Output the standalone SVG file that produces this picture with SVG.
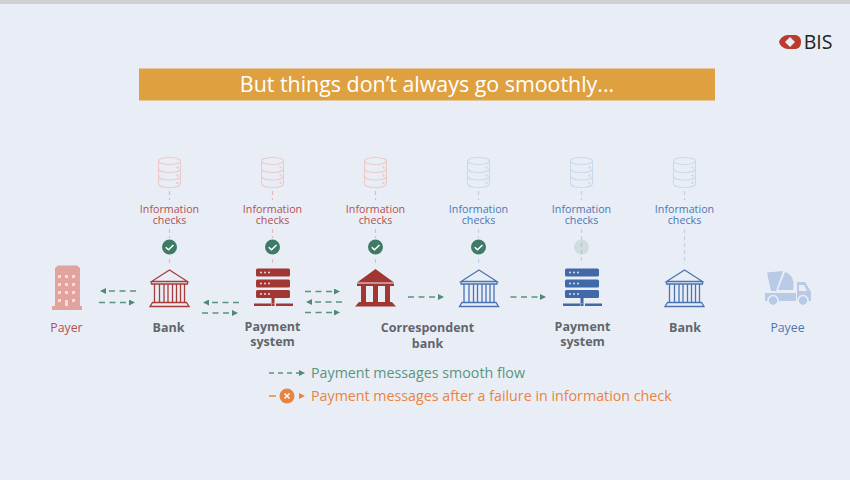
<svg xmlns="http://www.w3.org/2000/svg" width="850" height="480" viewBox="0 0 850 480">
<style>
text{font-family:"Open Sans","Noto Sans",sans-serif;text-anchor:middle}
.info{font-size:10.7px}
.red{fill:#b3504f}.blue{fill:#4d76b5}
.name{font-size:12.5px;font-weight:700;fill:#62666c}
.flow{fill:none;stroke:#5a9480;stroke-width:1.500;stroke-dasharray:6 4.500;marker-end:url(#ah)}
.vr{fill:none;stroke:#e3b9ba;stroke-width:1.200;stroke-dasharray:4 3}
.vb{fill:none;stroke:#c3d1e6;stroke-width:1.200;stroke-dasharray:4 3}
.db{fill:none;stroke-width:1.100}
.dbr{stroke:#eccaca;color:#eccaca}.dbb{stroke:#cbd9ec;color:#cbd9ec}
.bk{fill:none;stroke-width:1.300}
</style>
<defs>
<marker id="ah" viewBox="0 0 6 6" refX="3" refY="3" markerWidth="6" markerHeight="6" markerUnits="userSpaceOnUse" orient="auto"><path d="M0 0L6 3L0 6z" fill="#4f8a72"/></marker>
<marker id="aho" viewBox="0 0 6 6" refX="3" refY="3" markerWidth="6" markerHeight="6" markerUnits="userSpaceOnUse" orient="auto"><path d="M0 0L6 3L0 6z" fill="#e8843f"/></marker>
<g id="db">
<ellipse cx="0" cy="3.500" rx="11" ry="3.500"/>
<path d="M-11 3.500V26C-11 28.500 -6 30 0 30S11 28.500 11 26V3.500M-11 11C-11 13.500 -6 15 0 15S11 13.500 11 11M-11 18.500C-11 21 -6 22.500 0 22.500S11 21 11 18.500"/>
<circle cx="8" cy="10" r=".6" fill="currentColor"/><circle cx="8" cy="18" r=".6" fill="currentColor"/><circle cx="8" cy="25.500" r=".6" fill="currentColor"/>
</g>
<g id="chk"><circle r="7.500" fill="#3f7a66"/><path d="M-3.800 .2L-1 2.800L4 -2" fill="none" stroke="#fff" stroke-width="1.500"/></g>
<g id="bank">
<path d="M0 0.500L18 12H-18ZM-18 12V14.500H18V12M-15 14.500V33M15 14.500V33M-10 14.500V33M-5.500 14.500V33M-1.500 14.500V33M3 14.500V33M7 14.500V33M11 14.500V33M-15 33H15M-17 33H17L19.500 37H-19.500Z"/>
</g>
<g id="srv">
<rect x="0" y="0" width="34" height="8" rx="1.500"/><rect x="0" y="11" width="34" height="8" rx="1.500"/><rect x="0" y="21.500" width="34" height="8" rx="1.500"/>
<rect x="15.500" y="29" width="3" height="6"/><rect x="-2" y="35" width="17" height="2.500"/><rect x="15.500" y="35" width="3" height="2.500"/><rect x="20" y="35" width="17" height="2.500"/>
<g fill="#e9eef6"><circle cx="5" cy="4" r=".9"/><circle cx="9" cy="4" r=".9"/><circle cx="13" cy="4" r=".9"/><circle cx="5" cy="15" r=".9"/><circle cx="9" cy="15" r=".9"/><circle cx="13" cy="15" r=".9"/><circle cx="5" cy="25.500" r=".9"/><circle cx="9" cy="25.500" r=".9"/><circle cx="13" cy="25.500" r=".9"/></g>
</g>
</defs>
<rect width="850" height="480" fill="#e9eef6"/>
<rect width="850" height="4" fill="#d0d1d0"/>
<g id="logo">
<path d="M779 42C780 38 784 35 788 35H795C798 35 801 37 801 42C801 47 798 49 795 49H788C784 49 780 46 779 42Z" fill="#bd3a2f"/>
<path d="M790 37L795 42L790 47L785 42Z" fill="#e9eef6"/>
<text x="818" y="49" style="font-family:'Open Sans',sans-serif;font-size:19.5px" fill="#222">BIS</text>
</g>
<g id="title">
<rect x="139" y="68.500" width="576" height="32" fill="#dfa140"/>
<text x="427" y="92" font-size="21.400" fill="#fff">But things don’t always go smoothly...</text>
</g>
<g id="connectors">
<path class="vr" d="M169.500 191V200M169.500 229V238M169.500 259V264M272.500 191V200M272.500 229V238M272.500 259V264M375.500 191V200M375.500 229V238M375.500 259V264"/>
<path class="vb" d="M478.500 191V200M478.500 229V238M478.500 259V264M581.500 191V200M581.500 229V264M684.500 191V200M684.500 229V264"/>
<path class="flow" d="M136 291H103"/>
<path class="flow" d="M99 302.500H132"/>
<path class="flow" d="M239 302.500H206"/>
<path class="flow" d="M202 313H235"/>
<path class="flow" d="M305 291.500H337"/>
<path class="flow" d="M342 302H309"/>
<path class="flow" d="M305 312.500H337"/>
<path class="flow" d="M408 297H441"/>
<path class="flow" d="M510.500 297H543"/>
</g>
<g id="payer">
<path fill="#e2a29e" d="M55 268L58 265.500H77L80 268V306H82V310H52V306H55Z"/>
<g fill="#f3dede"><rect x="58" y="275" width="3" height="3"/><rect x="65" y="275" width="3" height="3"/><rect x="72" y="275" width="3" height="3"/><rect x="58" y="283" width="3" height="3"/><rect x="65" y="283" width="3" height="3"/><rect x="72" y="283" width="3" height="3"/><rect x="58" y="291" width="3" height="3"/><rect x="65" y="291" width="3" height="3"/><rect x="72" y="291" width="3" height="3"/><rect x="58" y="299" width="3" height="3"/><rect x="72" y="299" width="3" height="3"/><rect x="65" y="300" width="3" height="6"/></g>
<text x="66.500" y="332" font-size="12.300" class="red">Payer</text>
</g>
<g id="bank1">
<use href="#db" x="169.500" y="157.500" class="db dbr"/>
<text class="info red"><tspan x="169.500" y="212.500">Information</tspan><tspan x="169.500" y="224">checks</tspan></text>
<use href="#chk" x="169.500" y="247"/>
<use href="#bank" x="169.500" y="269.500" class="bk" stroke="#a83c38"/>
<text x="168.500" y="332" class="name">Bank</text>
</g>
<g id="ps1">
<use href="#db" x="272.500" y="157.500" class="db dbr"/>
<text class="info red"><tspan x="272.500" y="212.500">Information</tspan><tspan x="272.500" y="224">checks</tspan></text>
<use href="#chk" x="272.500" y="247"/>
<use href="#srv" x="256" y="268.500" fill="#a03733"/>
<text class="name"><tspan x="272.500" y="331">Payment</tspan><tspan x="272.500" y="346">system</tspan></text>
</g>
<g id="cb">
<use href="#db" x="375.500" y="157.500" class="db dbr"/>
<text class="info red"><tspan x="375.500" y="212.500">Information</tspan><tspan x="375.500" y="224">checks</tspan></text>
<use href="#chk" x="375.500" y="247"/>
<path fill="#a03733" d="M375.500 269L394 282.500H357ZM357 283.500H394V286H357ZM361 286H366V302H361ZM373 286H378V302H373ZM385 286H390V302H385ZM359 302H392L396 306.500H355Z"/>
<text class="name"><tspan x="427.500" y="332">Correspondent</tspan><tspan x="427.500" y="348">bank</tspan></text>
</g>
<g id="bank2">
<use href="#db" x="478.500" y="157.500" class="db dbb"/>
<text class="info blue"><tspan x="478.500" y="212.500">Information</tspan><tspan x="478.500" y="224">checks</tspan></text>
<use href="#chk" x="478.500" y="247"/>
<use href="#bank" x="479" y="269.500" class="bk" stroke="#4a73b3"/>
</g>
<g id="ps2">
<use href="#db" x="581.500" y="157.500" class="db dbb"/>
<text class="info blue"><tspan x="581.500" y="212.500">Information</tspan><tspan x="581.500" y="224">checks</tspan></text>
<circle cx="581.500" cy="247" r="7.500" fill="#3f7a66" opacity=".15"/>
<use href="#srv" x="565" y="268.500" fill="#4169a8"/>
<text class="name"><tspan x="582.500" y="331">Payment</tspan><tspan x="582.500" y="346">system</tspan></text>
</g>
<g id="bank3">
<use href="#db" x="684.500" y="157.500" class="db dbb"/>
<text class="info blue"><tspan x="684.500" y="212.500">Information</tspan><tspan x="684.500" y="224">checks</tspan></text>
<use href="#bank" x="684.500" y="269.500" class="bk" stroke="#4a73b3"/>
<text x="685" y="332" class="name">Bank</text>
</g>
<g id="payee">
<path fill="#b8cae5" d="M767 272.500L783 271L776 291H771ZM785 272C792 274 795 281 793 290H778ZM797 282H805L811 292V301H797ZM765 293H796V301H765Z"/>
<path fill="#e9eef6" d="M799 285H804L807 291H799Z"/>
<circle cx="773" cy="300.500" r="5" fill="#b8cae5" stroke="#e9eef6" stroke-width="1.500"/><circle cx="803" cy="300.500" r="5" fill="#b8cae5" stroke="#e9eef6" stroke-width="1.500"/>
<text x="787.500" y="332" font-size="12.300" class="blue">Payee</text>
</g>
<g id="legend">
<path d="M269 373H302" fill="none" stroke="#5a9480" stroke-width="1.500" stroke-dasharray="5 4" marker-end="url(#ah)"/>
<text x="311" y="378" font-size="14.250" fill="#5a9480" style="text-anchor:start">Payment messages smooth flow</text>
<path d="M269 396H276" fill="none" stroke="#e8843f" stroke-width="1.500"/>
<path d="M299 396H302" fill="none" stroke="#e8843f" stroke-width="1.500" marker-end="url(#aho)"/>
<circle cx="287" cy="396" r="7.500" fill="#e8843f"/>
<path d="M284.500 393.500L289.500 398.500M289.500 393.500L284.500 398.500" stroke="#fff" stroke-width="1.500"/>
<text x="311" y="401" font-size="14.250" fill="#e8843f" style="text-anchor:start">Payment messages after a failure in information check</text>
</g>
</svg>
